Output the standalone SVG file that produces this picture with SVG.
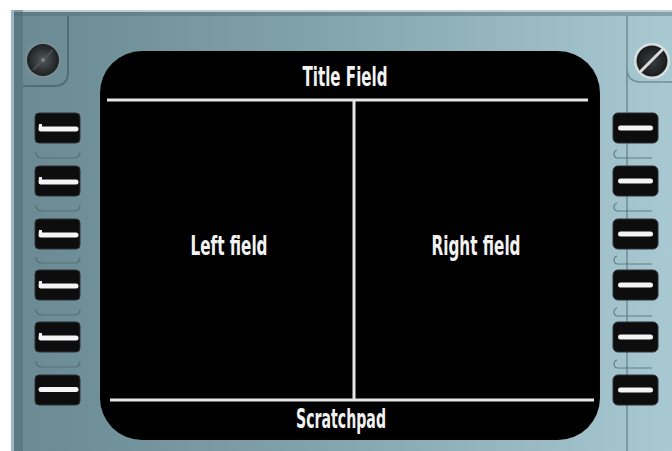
<svg xmlns="http://www.w3.org/2000/svg" width="672" height="451" viewBox="0 0 672 451">
  <defs>
    <linearGradient id="bezel" x1="0" y1="0" x2="1" y2="0">
      <stop offset="0" stop-color="#6a8992"/>
      <stop offset="0.45" stop-color="#80a2ab"/>
      <stop offset="1" stop-color="#a8c9d1"/>
    </linearGradient>
    <radialGradient id="screwL" cx="0.5" cy="0.5" r="0.5">
      <stop offset="0" stop-color="#d8dcdc"/>
      <stop offset="0.15" stop-color="#4a4f51"/>
      <stop offset="1" stop-color="#1c2022"/>
    </radialGradient>
    <radialGradient id="screwR" cx="0.5" cy="0.5" r="0.5">
      <stop offset="0" stop-color="#3a3e40"/>
      <stop offset="1" stop-color="#1a1d1e"/>
    </radialGradient>
    <filter id="soft" x="-10%" y="-10%" width="120%" height="120%">
      <feGaussianBlur stdDeviation="0.6"/>
    </filter>
    <style>
      .key { fill: #0c0c0c; stroke: #2a3236; stroke-width: 1; }
      .bar { fill: #f4f4f4; }
      .sep { fill: none; stroke: #53707a; stroke-width: 1.2; }
      .sepR { fill: none; stroke: #5e7f88; stroke-width: 1.2; }
      .rule { stroke: #e6e6e6; stroke-width: 3; }
      .lbl { font-family: "Liberation Sans Narrow", "DejaVu Sans Condensed", "Liberation Sans", sans-serif; font-weight: bold; font-size: 26px; fill: #f2f2f2; text-anchor: middle; }
    </style>
  </defs>

  <g id="bezel-panel">
    <rect x="11" y="10" width="661" height="441" fill="url(#bezel)"/>
    <rect x="11" y="10" width="661" height="2" fill="#b9cfd4"/>
    <rect x="11" y="12" width="661" height="4" fill="#4f6a72" opacity="0.4"/>
    <rect x="11" y="10" width="3" height="441" fill="#9db8c0"/>
    <rect x="14" y="10" width="9" height="441" fill="#4b6770" opacity="0.45"/>
    <path d="M68 16 V72 Q68 86 54 86 H23" fill="none" stroke="#4a656d" stroke-width="2" opacity="0.8"/>
    <path d="M627 16 V451 M627 68 Q627 82 641 82 H672" fill="none" stroke="#6e8f98" stroke-width="1.6"/>
  </g>

  <g id="screw-left">
    <circle cx="43" cy="60" r="18" fill="#7b8f94"/>
    <circle cx="43" cy="60" r="16" fill="url(#screwL)"/>
    <path d="M33 70 L53 50" stroke="#5a6164" stroke-width="2" opacity="0.6"/>
  </g>
  <g id="screw-right">
    <circle cx="652" cy="61" r="18" fill="#d7dfe0"/>
    <circle cx="652" cy="61" r="15.5" fill="url(#screwR)"/>
    <path d="M641 71 L662 50" stroke="#dcdcdc" stroke-width="3" stroke-linecap="round"/>
  </g>

  <g id="screen">
    <rect x="100" y="51" width="500" height="389" rx="42" ry="42" fill="#000"/>
  </g>

  <g id="connectors">
    <line class="rule" x1="107" y1="100" x2="588" y2="100"/>
    <line class="rule" x1="110" y1="400" x2="594" y2="400"/>
    <line class="rule" x1="354" y1="100" x2="354" y2="400"/>
  </g>

  <g id="title-field"><text class="lbl" x="345" y="86" textLength="85" lengthAdjust="spacingAndGlyphs">Title Field</text></g>
  <g id="left-field"><text class="lbl" x="229" y="255" textLength="77" lengthAdjust="spacingAndGlyphs">Left field</text></g>
  <g id="right-field"><text class="lbl" x="476" y="255" textLength="89" lengthAdjust="spacingAndGlyphs">Right field</text></g>
  <g id="scratchpad"><text class="lbl" x="341" y="428" textLength="90" lengthAdjust="spacingAndGlyphs">Scratchpad</text></g>

  <g id="left-keys" filter="url(#soft)">
    <g id="lsk-1"><rect class="key" x="35" y="113" width="45" height="30" rx="4"/><path class="bar" d="M39 124 h3 v2.5 h34 a2.5 2.5 0 0 1 0 5 h-35 a2.5 2.5 0 0 1 -2.5 -2.5 z"/></g>
    <path class="sep" d="M36 152 q0 6 6 6 h32 q6 0 6 -6"/>
    <g id="lsk-2"><rect class="key" x="35" y="166" width="45" height="30" rx="4"/><path class="bar" d="M39 177 h3 v2.5 h34 a2.5 2.5 0 0 1 0 5 h-35 a2.5 2.5 0 0 1 -2.5 -2.5 z"/></g>
    <path class="sep" d="M36 205 q0 6 6 6 h32 q6 0 6 -6"/>
    <g id="lsk-3"><rect class="key" x="35" y="219" width="45" height="30" rx="4"/><path class="bar" d="M39 230 h3 v2.5 h34 a2.5 2.5 0 0 1 0 5 h-35 a2.5 2.5 0 0 1 -2.5 -2.5 z"/></g>
    <path class="sep" d="M36 257 q0 6 6 6 h32 q6 0 6 -6"/>
    <g id="lsk-4"><rect class="key" x="35" y="270" width="45" height="30" rx="4"/><path class="bar" d="M39 281 h3 v2.5 h34 a2.5 2.5 0 0 1 0 5 h-35 a2.5 2.5 0 0 1 -2.5 -2.5 z"/></g>
    <path class="sep" d="M36 309 q0 6 6 6 h32 q6 0 6 -6"/>
    <g id="lsk-5"><rect class="key" x="35" y="322" width="45" height="30" rx="4"/><path class="bar" d="M39 333 h3 v2.5 h34 a2.5 2.5 0 0 1 0 5 h-35 a2.5 2.5 0 0 1 -2.5 -2.5 z"/></g>
    <path class="sep" d="M36 361 q0 6 6 6 h32 q6 0 6 -6"/>
    <g id="lsk-6"><rect class="key" x="35" y="375" width="45" height="30" rx="4"/><rect class="bar" x="38.5" y="387" width="40" height="5" rx="2.5"/></g>
  </g>

  <g id="right-keys" filter="url(#soft)">
    <g id="rsk-1"><rect class="key" x="613" y="113" width="45" height="30" rx="5"/><rect class="bar" x="618" y="125.5" width="35" height="5" rx="2.5"/></g>
    <path class="sepR" d="M617 150 q-3 1 -3 4 q0 4 4 4 h34"/>
    <g id="rsk-2"><rect class="key" x="613" y="166" width="45" height="30" rx="5"/><rect class="bar" x="618" y="178.5" width="35" height="5" rx="2.5"/></g>
    <path class="sepR" d="M617 203 q-3 1 -3 4 q0 4 4 4 h34"/>
    <g id="rsk-3"><rect class="key" x="613" y="219" width="45" height="30" rx="5"/><rect class="bar" x="618" y="231.5" width="35" height="5" rx="2.5"/></g>
    <path class="sepR" d="M617 256 q-3 1 -3 4 q0 4 4 4 h34"/>
    <g id="rsk-4"><rect class="key" x="613" y="270" width="45" height="30" rx="5"/><rect class="bar" x="618" y="282.5" width="35" height="5" rx="2.5"/></g>
    <path class="sepR" d="M617 308 q-3 1 -3 4 q0 4 4 4 h34"/>
    <g id="rsk-5"><rect class="key" x="613" y="322" width="45" height="30" rx="5"/><rect class="bar" x="618" y="334.5" width="35" height="5" rx="2.5"/></g>
    <path class="sepR" d="M617 360 q-3 1 -3 4 q0 4 4 4 h34"/>
    <g id="rsk-6"><rect class="key" x="613" y="375" width="45" height="30" rx="5"/><rect class="bar" x="618" y="387.5" width="35" height="5" rx="2.5"/></g>
  </g>
</svg>
